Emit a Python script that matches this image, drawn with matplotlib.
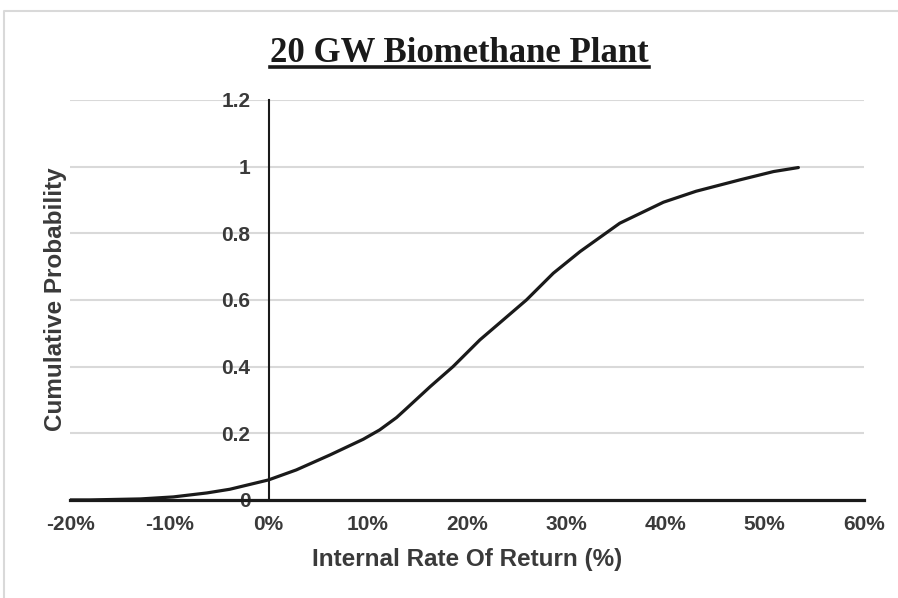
import matplotlib.pyplot as plt
from matplotlib.lines import Line2D
from matplotlib.ticker import FuncFormatter

# values
irr = [-0.20, -0.18, -0.129, -0.096, -0.062, -0.039, 0.0, 0.028, 0.062, 0.0955,
       0.112, 0.129, 0.1375, 0.163, 0.186, 0.213, 0.233, 0.260, 0.287, 0.314,
       0.354, 0.398, 0.431, 0.475, 0.509, 0.534]
cum_prob = [0.0, 0.0, 0.003, 0.009, 0.021, 0.032, 0.06, 0.09, 0.135, 0.182,
            0.21, 0.247, 0.27, 0.34, 0.40, 0.48, 0.531, 0.60, 0.68, 0.745,
            0.83, 0.893, 0.926, 0.96, 0.985, 0.997]

x_ticks = [-0.2, -0.1, 0.0, 0.1, 0.2, 0.3, 0.4, 0.5, 0.6]
y_ticks = [0, 0.2, 0.4, 0.6, 0.8, 1, 1.2]
y_labels = ["0", "0.2", "0.4", "0.6", "0.8", "1", "1.2"]

plt.rcParams['font.family'] = ['Liberation Sans', 'DejaVu Sans']
txt_col = '#3a3a3a'

fig = plt.figure(figsize=(8.98, 5.98), dpi=100)
ax = fig.add_axes([0.078, 0.164, 0.884, 0.669])

ax.plot(irr, cum_prob, color='#1a1a1a', linewidth=2.3, solid_capstyle='round',
        solid_joinstyle='round', zorder=3)

ax.set_xlim(-0.2, 0.6)
ax.set_ylim(0, 1.2)
ax.set_xticks(x_ticks)
ax.xaxis.set_major_formatter(FuncFormatter(lambda v, p: f"{v * 100:.0f}%"))
ax.set_yticks(y_ticks)
ax.set_yticklabels(y_labels)
ax.grid(axis='y', color='#d9d9d9', linewidth=1.5, zorder=0)
ax.set_axisbelow(True)

for s in ['top', 'right']:
    ax.spines[s].set_visible(False)
ax.spines['left'].set_position(('data', 0))
ax.spines['left'].set_color('#1a1a1a')
ax.spines['left'].set_linewidth(1.5)
ax.spines['bottom'].set_color('#1a1a1a')
ax.spines['bottom'].set_linewidth(2.3)

ax.tick_params(axis='both', length=0, labelsize=15, labelcolor=txt_col)
ax.tick_params(axis='x', pad=11)
ax.tick_params(axis='y', pad=13)
for lab in ax.get_xticklabels() + ax.get_yticklabels():
    lab.set_fontweight('bold')

ax.set_xlabel("Internal Rate Of Return (%)", fontsize=17.5, fontweight='bold',
              color=txt_col, labelpad=10)
fig.text(0.062, 0.5, "Cumulative Probability", rotation=90, fontsize=17.5,
         fontweight='bold', color=txt_col, ha='center', va='center')

title = fig.text(0.512, 0.911, "20 GW Biomethane Plant", fontsize=25,
                 fontweight='bold', family=['Liberation Serif', 'DejaVu Serif'],
                 color='#1a1a1a', ha='center', va='center')

# underline below the title
fig.canvas.draw()
bb = title.get_window_extent().transformed(fig.transFigure.inverted())
fig.add_artist(Line2D([bb.x0, bb.x1], [bb.y0 + 0.004, bb.y0 + 0.004],
                      transform=fig.transFigure, color='#1a1a1a', linewidth=2.6))

# light frame at top and left
fig.add_artist(Line2D([0.005, 0.005, 1.0], [0.0, 0.982, 0.982],
                      transform=fig.transFigure, color='#d9d9d9', linewidth=1.5))

fig.savefig("out.png", dpi=100)
